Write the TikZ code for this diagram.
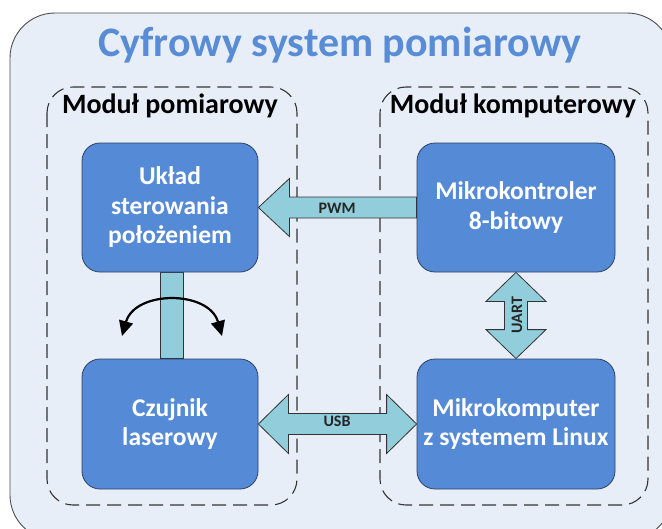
\documentclass[tikz,border=0pt]{standalone}
\usepackage{fontspec}
\setmainfont{Carlito}
\usetikzlibrary{arrows.meta,calc,backgrounds}
\definecolor{tlo}{RGB}{232,238,248}
\definecolor{niebieski}{RGB}{85,138,214}
\definecolor{ramka}{RGB}{45,65,100}
\definecolor{strzalka}{RGB}{146,205,220}
\definecolor{tytul}{RGB}{88,141,214}
\tikzset{
  blok/.style={draw=ramka,line width=0.8pt,fill=niebieski,rounded corners=18pt,text=white,
    font=\fontsize{25.5}{29.5}\selectfont\bfseries,align=center,inner sep=0pt},
  modul/.style={draw=black!80,line width=1.1pt,dash pattern=on 14pt off 7pt,rounded corners=26pt},
  blokstrzalka/.style={draw=black!80,line width=0.8pt,fill=strzalka},
  etykieta/.style={font=\fontsize{16}{16}\selectfont\bfseries,text=black!85}
}
\begin{document}
\begin{tikzpicture}[x=1pt,y=-1pt,line join=round]
\clip (0,0) rectangle (662,528);
\useasboundingbox (0,0) rectangle (662,528);
% tlo i moduly
\begin{scope}[on background layer]
\draw[fill=tlo,draw=black!70,line width=0.9pt,rounded corners=45pt] (10,13) rectangle (672,540);
\draw[modul] (47,87) rectangle (297,505);
\draw[modul] (380,87) rectangle (648,505);
\end{scope}
\node[text=tytul,font=\fontsize{42}{42}\selectfont\bfseries] (tytul) at (340,45) {Cyfrowy system pomiarowy};
\node[font=\fontsize{28}{28}\selectfont\bfseries] (modpom) at (170,106) {Moduł pomiarowy};
\node[font=\fontsize{28}{28}\selectfont\bfseries] (modkomp) at (513,106) {Moduł komputerowy};
% bloki
\node[blok,minimum width=176pt,minimum height=129pt] (uklad) at (170,207.5) {Układ\\sterowania\\położeniem};
\node[blok,minimum width=176pt,minimum height=130pt] (czujnik) at (170,424) {Czujnik\\laserowy};
\node[blok,minimum width=198pt,minimum height=129pt] (mikrokontroler) at (516,207.5) {Mikrokontroler\\8-bitowy};
\node[blok,minimum width=198pt,minimum height=130pt] (mikrokomputer) at (516,424) {Mikrokomputer\\z systemem Linux};
% polaczenia
\begin{scope}[on background layer]
\draw[blokstrzalka] (uklad.east) -- ++(31,-29) -- ++(0,18.5) -- ($(mikrokontroler.west)+(0,-10.5)$)
  -- ($(mikrokontroler.west)+(0,10.5)$) -- ($(uklad.east)+(31,10.5)$) -- ++(0,18.5) -- cycle;
\draw[blokstrzalka] (czujnik.east) -- ++(30,-29.5) -- ++(0,19) -- ($(mikrokomputer.west)+(-30,-10.5)$)
  -- ++(0,-19) -- (mikrokomputer.west) -- ++(-30,29.5) -- ++(0,-19) -- ($(czujnik.east)+(30,10.5)$) -- ++(0,19) -- cycle;
\draw[blokstrzalka] (mikrokontroler.south) -- ++(30,29) -- ++(-18.5,0) -- ($(mikrokomputer.north)+(11.5,-29)$)
  -- ++(18.5,0) -- (mikrokomputer.north) -- ++(-30,-29) -- ++(18.5,0) -- ($(mikrokontroler.south)+(-11.5,29)$) -- ++(-18.5,0) -- cycle;
\draw[blokstrzalka] ($(uklad.south)+(-10,0)$) rectangle ($(czujnik.north)+(13,0)$);
\end{scope}
\node[etykieta] (pwm) at (337,208) {PWM};
\node[etykieta] (usb) at (337,421) {USB};
\node[etykieta,rotate=90] (uart) at (517,315) {UART};
% obrot czujnika
\coordinate (obrotL) at (122,336);
\coordinate (obrotP) at (222,336);
\draw[{Triangle[length=15pt,width=14pt]}-{Triangle[length=15pt,width=14pt]},line width=2.2pt]
  (obrotL) .. controls (135,290) and (209,290) .. (obrotP);
\end{tikzpicture}
\end{document}
